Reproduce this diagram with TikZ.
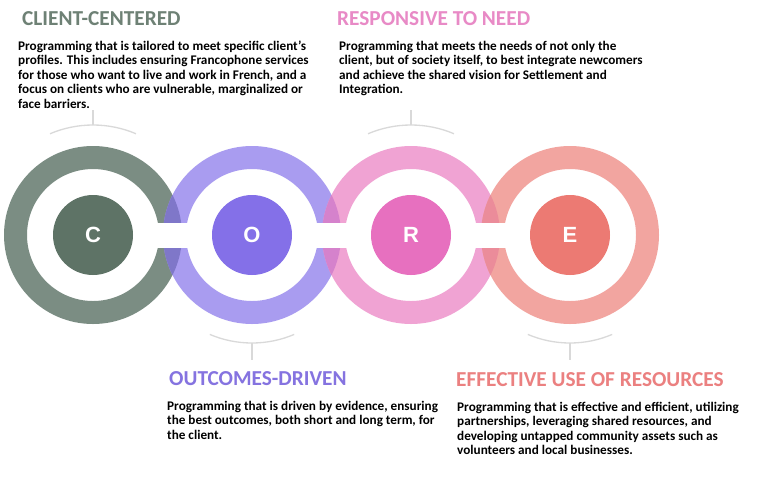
\documentclass[tikz,border=0pt]{standalone}
\usepackage{fontspec}
\setmainfont{Carlito}
\newfontfamily\letterfont{Liberation Sans}
\definecolor{cRing}{HTML}{7B8D83}
\definecolor{cDisc}{HTML}{5E7366}
\definecolor{oRing}{HTML}{A99CF0}
\definecolor{oDisc}{HTML}{8470E8}
\definecolor{rRing}{HTML}{F0A3D3}
\definecolor{rDisc}{HTML}{E770BF}
\definecolor{eRing}{HTML}{F2A5A0}
\definecolor{eDisc}{HTML}{EC7A73}
\definecolor{coLap}{HTML}{7F77C9}
\definecolor{orLap}{HTML}{D582CC}
\definecolor{reLap}{HTML}{EB8C9A}
\definecolor{cTitle}{HTML}{6E8175}
\definecolor{oTitle}{HTML}{8573E0}
\definecolor{rTitle}{HTML}{E88AC6}
\definecolor{eTitle}{HTML}{EB8080}
\definecolor{guide}{HTML}{D9D9D9}
\begin{document}
\begin{tikzpicture}[x=1pt,y=-1pt,
  disc/.style={circle,minimum size=80pt,inner sep=0pt,text=white,font=\letterfont\bfseries\fontsize{22}{26}\selectfont},
  title/.style={anchor=base west,inner sep=0pt,font=\bfseries\fontsize{21.3}{24}\selectfont},
  body/.style={anchor=base west,inner sep=0pt,align=left,font=\bfseries\fontsize{13.2}{14.6}\selectfont},
  guideline/.style={draw=guide,line width=1.3pt}]
\useasboundingbox[fill=white] (0,0) rectangle (771,488);
% ring centres
\coordinate (cC) at (93,235);
\coordinate (cO) at (252,235);
\coordinate (cR) at (411,235);
\coordinate (cE) at (570,235);
% rings
\fill[cRing,even odd rule] (cC) circle[radius=89] (cC) circle[radius=66];
\fill[oRing,even odd rule] (cO) circle[radius=89] (cO) circle[radius=66];
\fill[rRing,even odd rule] (cR) circle[radius=89] (cR) circle[radius=66];
\fill[eRing,even odd rule] (cE) circle[radius=89] (cE) circle[radius=66];
% overlaps
\begin{scope}\clip (cC) circle[radius=89];
\fill[coLap,even odd rule] (cO) circle[radius=89] (cO) circle[radius=66];\end{scope}
\begin{scope}\clip (cO) circle[radius=89];
\fill[orLap,even odd rule] (cR) circle[radius=89] (cR) circle[radius=66];\end{scope}
\begin{scope}\clip (cR) circle[radius=89];
\fill[reLap,even odd rule] (cE) circle[radius=89] (cE) circle[radius=66];\end{scope}
% white bands
\fill[white] (143,222.5) rectangle (202,247.5);
\fill[white] (302,222.5) rectangle (361,247.5);
\fill[white] (461,222.5) rectangle (520,247.5);
% discs
\node[disc,fill=cDisc] (C) at (cC) {C};
\node[disc,fill=oDisc] (O) at (cO) {O};
\node[disc,fill=rDisc] (R) at (cR) {R};
\node[disc,fill=eDisc] (E) at (cE) {E};
% guide brackets
\draw[guideline] (cC) ++(247:110) arc[start angle=247,end angle=293,radius=110];
\draw[guideline] (cC) ++(270:110) coordinate (tC) -- ++(0,-15);
\draw[guideline] (cR) ++(247:110) arc[start angle=247,end angle=293,radius=110];
\draw[guideline] (cR) ++(270:110) coordinate (tR) -- ++(0,-15);
\draw[guideline] (cO) ++(113:108) arc[start angle=113,end angle=67,radius=108];
\draw[guideline] (cO) ++(90:108) coordinate (tO) -- ++(0,17);
\draw[guideline] (cE) ++(113:108) arc[start angle=113,end angle=67,radius=108];
\draw[guideline] (cE) ++(90:108) coordinate (tE) -- ++(0,17);
% texts (body nodes anchored at the baseline of their last line)
\node[title,text=cTitle] (t1) at (22,25) {CLIENT-CENTERED};
\node[body] (b1) at (18,108.4) {Programming that is tailored to meet specific client{\char"27}s\\profiles. This includes ensuring Francophone services\\for those who want to live and work in French, and a\\focus on clients who are vulnerable, marginalized or\\face barriers.};
\node[title,text=rTitle] (t2) at (337,25) {RESPONSIVE TO NEED};
\node[body] (b2) at (339,93.8) {Programming that meets the needs of not only the\\client, but of society itself, to best integrate newcomers\\and achieve the shared vision for Settlement and\\Integration.};
\node[title,text=oTitle] (t3) at (169,385) {OUTCOMES-DRIVEN};
\node[body] (b3) at (167,439.2) {Programming that is driven by evidence, ensuring\\the best outcomes, both short and long term, for\\the client.};
\node[title,text=eTitle] (t4) at (456,386) {EFFECTIVE USE OF RESOURCES};
\node[body] (b4) at (457,454.8) {Programming that is effective and efficient, utilizing\\partnerships, leveraging shared resources, and\\developing untapped community assets such as\\volunteers and local businesses.};
\end{tikzpicture}
\end{document}
